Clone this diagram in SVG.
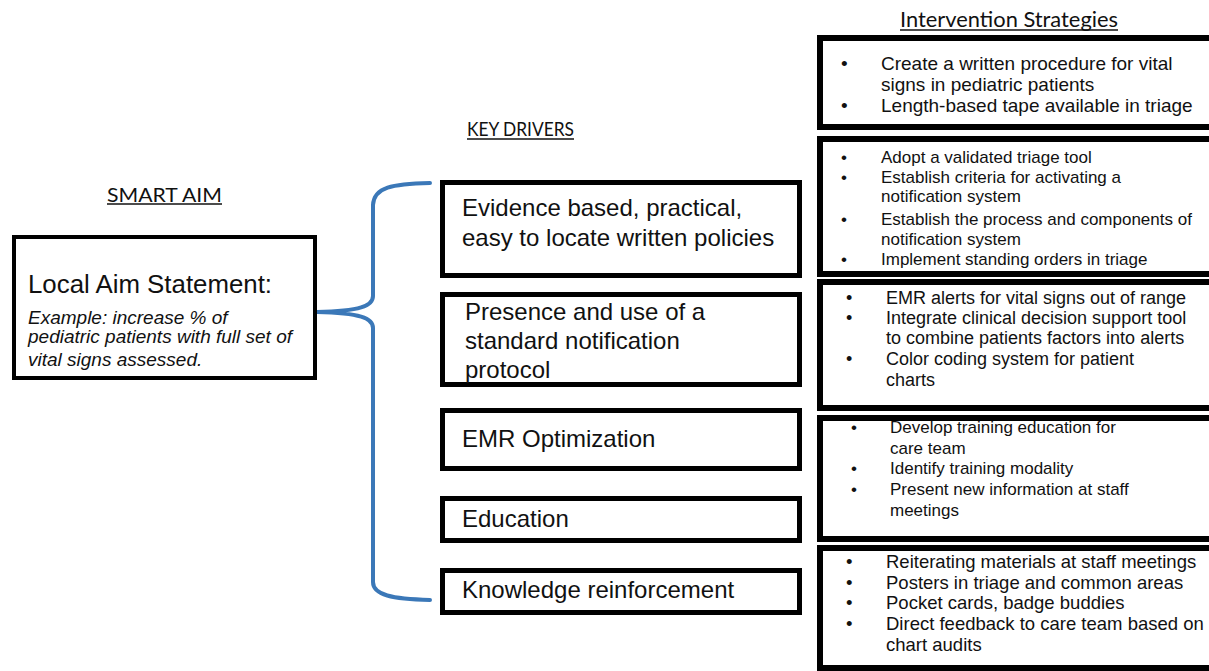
<svg xmlns="http://www.w3.org/2000/svg" width="1209" height="671" viewBox="0 0 1209 671">
<style>
.bg{fill:#ffffff}
.hdr{font-family:Lato,"Open Sans","Liberation Sans",sans-serif;fill:#111}
.ul{stroke:#111;stroke-width:1.4}
.aim{fill:#fff;stroke:#000;stroke-width:4}
.kd{fill:#fff;stroke:#000;stroke-width:5}
.iv{fill:#fff;stroke:#000;stroke-width:6}
.t{font-family:"Liberation Sans",Arial,sans-serif;fill:#111}
.it{font-family:"Liberation Sans",Arial,sans-serif;font-style:italic;fill:#111}
.brace{fill:none;stroke:#3b78b8;stroke-width:4;stroke-linecap:round;stroke-linejoin:round}
</style>
<rect class="bg" x="0" y="0" width="1209" height="671"/>

<g id="headers">
  <text class="hdr" x="107" y="202" font-size="20" textLength="115" lengthAdjust="spacingAndGlyphs">SMART AIM</text>
  <line class="ul" x1="107" y1="204" x2="222" y2="204"/>
  <text class="hdr" x="467" y="136" font-size="19" textLength="107" lengthAdjust="spacingAndGlyphs">KEY DRIVERS</text>
  <line class="ul" x1="467" y1="139" x2="574" y2="139"/>
  <text class="hdr" x="900" y="27" font-size="21" textLength="218" lengthAdjust="spacingAndGlyphs">Intervention Strategies</text>
  <line class="ul" x1="900" y1="30" x2="1118" y2="30"/>
</g>

<g id="connectors">
  <path class="brace" d="M430,183 C392,184 374,187 373,205 L373,296 C373,306 360,311 317,312 C360,313 373,318 373,328 L373,582 C373,595 392,599 430,600"/>
</g>

<g id="aim">
  <rect class="aim" x="14" y="237" width="301" height="141"/>
  <text class="t" x="28" y="293" font-size="25" textLength="244" lengthAdjust="spacingAndGlyphs">Local Aim Statement:</text>
  <text class="it" x="28" y="324" font-size="19">Example: increase % of</text>
  <text class="it" x="28" y="343" font-size="19">pediatric patients with full set of</text>
  <text class="it" x="28" y="366" font-size="19">vital signs assessed.</text>
</g>

<g id="kd1">
  <rect class="kd" x="442.5" y="182.5" width="357" height="93"/>
  <text class="t" x="462" y="216" font-size="24">Evidence based, practical,</text>
  <text class="t" x="462" y="246" font-size="24">easy to locate written policies</text>
</g>
<g id="kd2">
  <rect class="kd" x="442.5" y="294.5" width="357" height="90"/>
  <text class="t" x="465" y="320" font-size="24">Presence and use of a</text>
  <text class="t" x="465" y="349" font-size="24">standard notification</text>
  <text class="t" x="465" y="378" font-size="24">protocol</text>
</g>
<g id="kd3">
  <rect class="kd" x="442.5" y="410.5" width="357" height="58"/>
  <text class="t" x="462" y="447" font-size="24">EMR Optimization</text>
</g>
<g id="kd4">
  <rect class="kd" x="442.5" y="498.5" width="357" height="42"/>
  <text class="t" x="462" y="527" font-size="24">Education</text>
</g>
<g id="kd5">
  <rect class="kd" x="442.5" y="570.5" width="357" height="42"/>
  <text class="t" x="462" y="598" font-size="24">Knowledge reinforcement</text>
</g>

<g id="iv1">
  <rect class="iv" x="820" y="38" width="400" height="89"/>
  <g class="t" font-size="19">
    <text x="841" y="70">•</text><text x="881" y="70">Create a written procedure for vital</text>
    <text x="881" y="91">signs in pediatric patients</text>
    <text x="841" y="112">•</text><text x="881" y="112">Length-based tape available in triage</text>
  </g>
</g>
<g id="iv2">
  <rect class="iv" x="820" y="139" width="400" height="135"/>
  <g class="t" font-size="17">
    <text x="841" y="163">•</text><text x="881" y="163">Adopt a validated triage tool</text>
    <text x="841" y="183">•</text><text x="881" y="183">Establish criteria for activating a</text>
    <text x="881" y="202">notification system</text>
    <text x="841" y="225">•</text><text x="881" y="225">Establish the process and components of</text>
    <text x="881" y="245">notification system</text>
    <text x="841" y="265">•</text><text x="881" y="265">Implement  standing orders in triage</text>
  </g>
</g>
<g id="iv3">
  <rect class="iv" x="820" y="282" width="400" height="126"/>
  <g class="t" font-size="18">
    <text x="846" y="304">•</text><text x="886" y="304">EMR alerts for vital signs out of range</text>
    <text x="846" y="324">•</text><text x="886" y="324">Integrate clinical decision support tool</text>
    <text x="886" y="344">to combine patients factors into alerts</text>
    <text x="846" y="365">•</text><text x="886" y="365">Color coding system for patient</text>
    <text x="886" y="386">charts</text>
  </g>
</g>
<g id="iv4">
  <rect class="iv" x="820" y="418" width="400" height="121"/>
  <g class="t" font-size="17">
    <text x="851" y="433">•</text><text x="890" y="433">Develop training education for</text>
    <text x="890" y="454">care team</text>
    <text x="851" y="474">•</text><text x="890" y="474">Identify training modality</text>
    <text x="851" y="495">•</text><text x="890" y="495">Present new information at staff</text>
    <text x="890" y="516">meetings</text>
  </g>
</g>
<g id="iv5">
  <rect class="iv" x="820" y="548" width="400" height="120"/>
  <g class="t" font-size="18.5">
    <text x="846" y="568">•</text><text x="886" y="568">Reiterating materials at staff meetings</text>
    <text x="846" y="589">•</text><text x="886" y="589">Posters in triage and common areas</text>
    <text x="846" y="609">•</text><text x="886" y="609">Pocket cards, badge buddies</text>
    <text x="846" y="630">•</text><text x="886" y="630">Direct feedback to care team based on</text>
    <text x="886" y="651">chart audits</text>
  </g>
</g>
</svg>
